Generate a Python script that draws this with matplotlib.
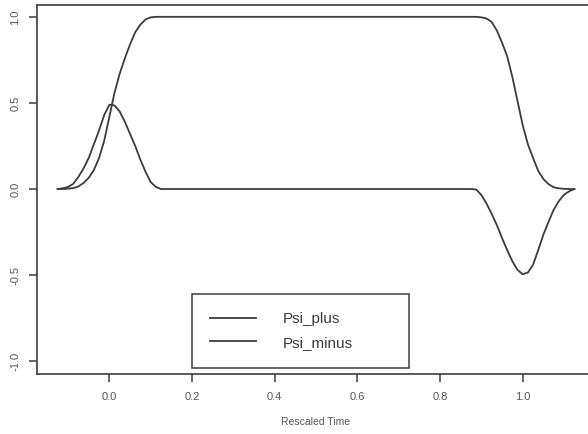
import numpy as np
import matplotlib
matplotlib.use('Agg')
import matplotlib.pyplot as plt

# rescaled time: the two transition windows, the flat parts are straight lines in between
time = [-0.125, -0.1125, -0.1, -0.0875, -0.075, -0.0625, -0.05, -0.0375, -0.025, -0.0125, 0.0,
        0.0125, 0.025, 0.0375, 0.05, 0.0625, 0.075, 0.0875, 0.1, 0.1125, 0.125,
        0.875, 0.8875, 0.9, 0.9125, 0.925, 0.9375, 0.95, 0.9625, 0.975, 0.9875, 1.0,
        1.0125, 1.025, 1.0375, 1.05, 1.0625, 1.075, 1.0875, 1.1, 1.1125, 1.125]

psi_plus = [0.0, 0.0, 0.002, 0.005, 0.015, 0.035, 0.065, 0.11, 0.18, 0.28, 0.42,
            0.56, 0.67, 0.76, 0.84, 0.91, 0.955, 0.985, 0.997, 1.0, 1.0,
            1.0, 1.0, 0.997, 0.99, 0.97, 0.92, 0.85, 0.77, 0.65, 0.51, 0.37,
            0.26, 0.18, 0.105, 0.058, 0.028, 0.01, 0.004, 0.001, 0.0, 0.0]

psi_minus = [0.0, 0.004, 0.012, 0.03, 0.07, 0.12, 0.18, 0.26, 0.34, 0.43, 0.49,
             0.485, 0.45, 0.39, 0.32, 0.25, 0.17, 0.10, 0.04, 0.012, 0.0,
             0.0, -0.003, -0.035, -0.085, -0.145, -0.21, -0.285, -0.355, -0.42, -0.47, -0.495,
             -0.485, -0.44, -0.355, -0.265, -0.19, -0.12, -0.07, -0.033, -0.013, 0.0]

labels = ['Psi_plus', 'Psi_minus']
x_ticks = [0.0, 0.2, 0.4, 0.6, 0.8, 1.0]
y_ticks = [-1.0, -0.5, 0.0, 0.5, 1.0]

plt.rcParams['font.family'] = ['Liberation Sans', 'DejaVu Sans']
ink = '#3c3c3c'

fig = plt.figure(figsize=(5.88, 4.34), dpi=100)
# the frame runs past the right edge of the figure
ax = fig.add_axes([0.063, 0.138, 0.949, 0.851])

ax.plot(time, psi_plus, color=ink, lw=1.3, label=labels[0])
ax.plot(time, psi_minus, color=ink, lw=1.3, label=labels[1])

ax.set_xlim(-0.175, 1.175)
ax.set_ylim(-1.075, 1.07)

ax.set_xticks(x_ticks)
ax.set_xticklabels(['%.1f' % v for v in x_ticks])
ax.set_yticks(y_ticks)
ax.set_yticklabels(['%.1f' % v for v in y_ticks], rotation=90, va='center')
ax.tick_params(axis='x', length=6, width=1.1, color=ink, labelcolor='#555555', labelsize=8, pad=7)
ax.tick_params(axis='y', length=6, width=1.1, color=ink, labelcolor='#555555', labelsize=8, pad=6)
for s in ax.spines.values():
  s.set_color(ink)
  s.set_linewidth(1.2)

ax.set_xlabel('Rescaled Time', fontsize=7.5, color='#555555', labelpad=11)

# legend box sits in the lower middle of the frame
leg = ax.legend(loc='upper left', bbox_to_anchor=(0.20, -1.03, 0.524, 0.42),
                bbox_transform=ax.transData, mode='expand', fontsize=11,
                handlelength=3.0, handletextpad=1.75, borderpad=1.2, labelspacing=0.6,
                fancybox=False, framealpha=1, borderaxespad=0)
leg.get_frame().set_edgecolor(ink)
leg.get_frame().set_linewidth(1.1)
for txt in leg.get_texts():
  txt.set_color('#3a3a3a')

fig.savefig('out.png', dpi=100)
